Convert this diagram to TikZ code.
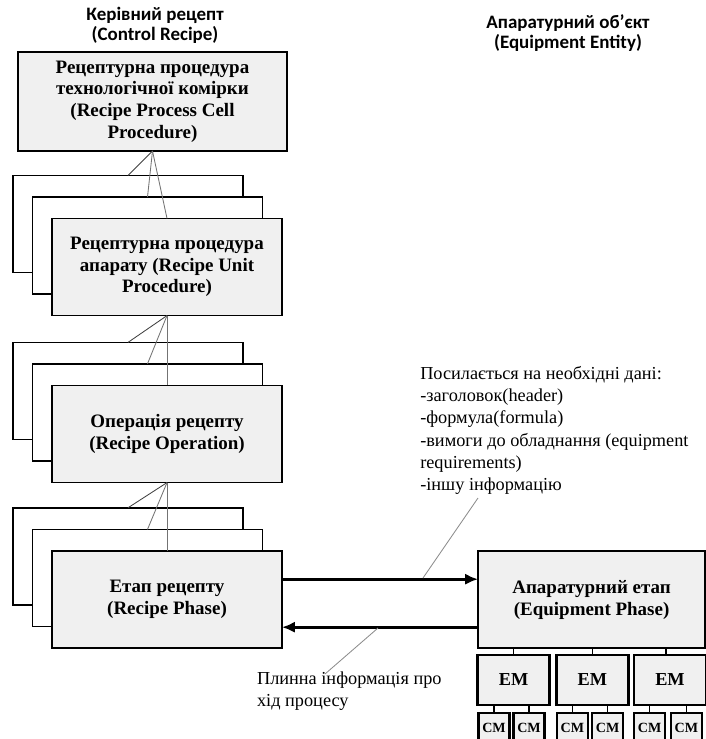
\documentclass[tikz,border=0pt]{standalone}
\usepackage{fontspec}
\setmainfont{Liberation Serif}
\newfontfamily\titlefont{Carlito}
\usepackage{tikz}
\usetikzlibrary{arrows.meta}

\begin{document}
\begin{tikzpicture}[
  front/.style={draw, line width=1.1pt, fill=black!6, minimum width=5.75cm, minimum height=2.43cm,
    align=center, outer sep=0pt, inner sep=2pt, font=\fontsize{13.5}{15.5}\selectfont\bfseries},
  back/.style={front, fill=white},
  embox/.style={draw, line width=1.8pt, fill=black!6, minimum width=1.8cm, minimum height=1.25cm,
    outer sep=0pt, font=\fontsize{13}{15}\selectfont\bfseries},
  cmbox/.style={draw, line width=1.6pt, fill=black!6, minimum width=0.78cm, minimum height=0.75cm,
    outer sep=0pt, inner sep=0pt, font=\fontsize{10}{12}\selectfont\bfseries},
  agg/.style={black!55, line width=0.6pt},
  tick/.style={line width=1.1pt},
  flow/.style={line width=2.4pt, -{Latex[length=3.2mm,width=2.8mm]}},
  callout/.style={black!45, line width=0.6pt},
  note/.style={align=left, inner sep=0pt, font=\fontsize{13}{15.8}\selectfont},
  header/.style={align=center, font=\titlefont\fontsize{13.5}{14.5}\selectfont\bfseries}
]
\useasboundingbox (0,0) rectangle (17.65,-18.475);
\clip (0,0) rectangle (17.65,-18.475);

% Headers
\node[header] (cr) at (3.875,-0.64) {Керівний рецепт\\(Control Recipe)};
\node[header] (ee) at (14.2,-0.82) {Апаратурний об’єкт\\(Equipment Entity)};

% Recipe process cell procedure
\node[front, minimum width=6.72cm, minimum height=2.47cm] (pc) at (3.8125,-2.54)
  {Рецептурна процедура\\технологічної комірки\\(Recipe Process Cell\\Procedure)};

% Recipe unit procedures
\node[back] (ru1) at (3.2,-5.6) {};
\node[back] (ru2) at (3.6875,-6.14) {};
\node[front] (ru) at (4.175,-6.675) {Рецептурна процедура\\апарату (Recipe Unit\\Procedure)};

% Recipe operations
\node[back] (ro1) at (3.2,-9.775) {};
\node[back] (ro2) at (3.6875,-10.31) {};
\node[front] (ro) at (4.175,-10.85) {Операція рецепту\\(Recipe Operation)};

% Recipe phases
\node[back] (rph1) at (3.2,-13.91) {};
\node[back] (rph2) at (3.6875,-14.45) {};
\node[front] (rph) at (4.175,-14.99) {Етап рецепту\\(Recipe Phase)};

% Aggregation lines
\draw[agg, black!75] (pc.south) -- (ru1.north);
\draw[agg] (pc.south) -- (ru2.north);
\draw[agg] (pc.south) -- (ru.north);
\draw[agg, black!75] (ru.south) -- (ro1.north);
\draw[agg] (ru.south) -- (ro2.north);
\draw[agg] (ru.south) -- (ro.north);
\draw[agg, black!75] (ro.south) -- (rph1.north);
\draw[agg] (ro.south) -- (rph2.north);
\draw[agg] (ro.south) -- (rph.north);

% Equipment phase, modules
\node[front, minimum width=5.68cm] (ep) at (14.79,-14.99) {Апаратурний етап\\(Equipment Phase)};
\node[embox] (em1) at (12.84,-17.0) {EM};
\node[embox] (em2) at (14.81,-17.0) {EM};
\node[embox] (em3) at (16.75,-17.0) {EM};
\node[cmbox] (cm1) at (12.35,-18.2) {CM};
\node[cmbox] (cm2) at (13.225,-18.2) {CM};
\node[cmbox] (cm3) at (14.31,-18.2) {CM};
\node[cmbox] (cm4) at (15.19,-18.2) {CM};
\node[cmbox] (cm5) at (16.24,-18.2) {CM};
\node[cmbox] (cm6) at (17.16,-18.2) {CM};

\draw[tick] (em1.north) -- (em1.north |- ep.south);
\draw[tick] (em2.north) -- (em2.north |- ep.south);
\draw[tick] ([xshift=-0.1cm]em3.north) -- ([xshift=-0.1cm]em3.north |- ep.south);
\draw[tick] (cm1.north) -- (cm1.north |- em1.south);
\draw[tick] (cm2.north) -- (cm2.north |- em1.south);
\draw[tick] (cm3.north) -- (cm3.north |- em2.south);
\draw[tick] (cm4.north) -- (cm4.north |- em2.south);
\draw[tick] (cm5.north) -- (cm5.north |- em3.south);
\draw[tick] (cm6.north) -- (cm6.north |- em3.south);

% Data flows
\draw[flow] ([yshift=0.51cm]rph.east) -- ([yshift=0.51cm]ep.west);
\draw[flow, line width=2pt] ([yshift=-0.69cm]ep.west) -- ([yshift=-0.69cm]rph.east);

% Notes
\node[note, anchor=north west] (refs) at (10.5,-9.15)
  {Посилається на необхідні дані:\\-заголовок(header)\\-формула(formula)\\-вимоги до обладнання (equipment\\requirements)\\-іншу інформацію};
\node[note, anchor=north west] (info) at (6.42,-16.78) {Плинна інформація про\\хід процесу};

\coordinate (r1) at (11.95,-12.45);
\coordinate (r2) at (10.575,-14.45);
\coordinate (i1) at (9.45,-15.7);
\coordinate (i2) at (8.125,-16.85);
\draw[callout] (r1) -- (r2);
\draw[callout] (i1) -- (i2);

\end{tikzpicture}
\end{document}
